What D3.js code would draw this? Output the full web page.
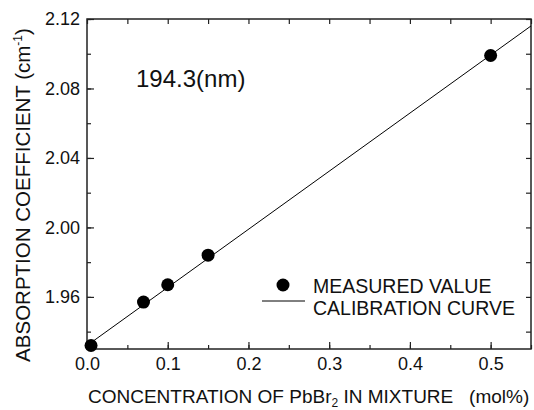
<!DOCTYPE html>
<html lang="en">
<head>
	<meta charset="utf-8"/>
	<title>Absorption coefficient calibration</title>
	<script src="https://d3js.org/d3.v7.min.js" charset="utf-8"></script>
	<style>
		body { margin: 0; background: #fff; }
		svg text { font-family: "Liberation Sans", Arial, sans-serif; fill: #111; }
		.frame { fill: none; stroke: #222; stroke-width: 1.5px; }
		.axis .domain { display: none; }
		.axis line { stroke: #222; stroke-width: 1.2px; }
	</style>
</head>
<body>
<div id="chart"></div>

<script>
	// measured points
	var conc = [0.005, 0.07, 0.10, 0.15, 0.50];
	var absCoef = [1.932, 1.957, 1.967, 1.984, 2.099];

	// calibration curve end points
	var fitX = [0.0, 0.55];
	var fitY = [1.932, 2.116];

	var xTicks = [0.0, 0.1, 0.2, 0.3, 0.4, 0.5];
	var yTicks = [1.96, 2.00, 2.04, 2.08, 2.12];

	var width = 534,
		height = 410;

	var m = {top: 19, right: 3, bottom: 61, left: 87};

	var svg = d3.select("#chart").append("svg")
		.attr("width", width)
		.attr("height", height);

	var x = d3.scaleLinear()
		.domain([0, 0.55])
		.range([m.left, width - m.right]);

	var y = d3.scaleLinear()
		.domain([1.93, 2.12])
		.range([height - m.bottom, m.top]);

	var xMinor = d3.range(0, 0.551, 0.05);
	var yMinor = d3.range(1.94, 2.121, 0.02);

	// minor ticks (all four sides)
	svg.append("g")
		.attr("class", "axis")
		.attr("transform", "translate(0," + y.range()[0] + ")")
		.call(d3.axisTop(x).tickValues(xMinor).tickSize(4).tickFormat(""));
	svg.append("g")
		.attr("class", "axis")
		.attr("transform", "translate(0," + y.range()[1] + ")")
		.call(d3.axisBottom(x).tickValues(xMinor).tickSize(5).tickFormat(""));
	svg.append("g")
		.attr("class", "axis")
		.attr("transform", "translate(" + x.range()[0] + ",0)")
		.call(d3.axisRight(y).tickValues(yMinor).tickSize(4).tickFormat(""));
	svg.append("g")
		.attr("class", "axis")
		.attr("transform", "translate(" + x.range()[1] + ",0)")
		.call(d3.axisLeft(y).tickValues(yMinor).tickSize(5).tickFormat(""));

	// major ticks with labels
	var xAxis = svg.append("g")
		.attr("class", "axis")
		.attr("transform", "translate(0," + y.range()[0] + ")")
		.call(d3.axisTop(x).tickValues(xTicks).tickSize(7).tickFormat(d3.format(".1f")));
	xAxis.selectAll("text")
		.attr("y", 8)
		.attr("dy", "0.71em")
		.attr("font-size", 18)
		.attr("font-family", null);

	var yAxis = svg.append("g")
		.attr("class", "axis")
		.attr("transform", "translate(" + x.range()[0] + ",0)")
		.call(d3.axisRight(y).tickValues(yTicks).tickSize(7).tickFormat(d3.format(".2f")));
	yAxis.selectAll("text")
		.attr("x", -7)
		.attr("text-anchor", "end")
		.attr("font-size", 18)
		.attr("font-family", null);

	// frame
	svg.append("rect")
		.attr("class", "frame")
		.attr("x", x.range()[0])
		.attr("y", y.range()[1])
		.attr("width", x.range()[1] - x.range()[0])
		.attr("height", y.range()[0] - y.range()[1]);

	// calibration line
	var line = d3.line()
		.x(function(d) { return x(d[0]); })
		.y(function(d) { return y(d[1]); });

	svg.append("path")
		.datum(d3.zip(fitX, fitY))
		.attr("d", line)
		.attr("fill", "none")
		.attr("stroke", "#000")
		.attr("stroke-width", 1);

	// measured points
	svg.append("g")
		.selectAll("circle")
		.data(d3.zip(conc, absCoef))
		.enter().append("circle")
		.attr("cx", function(d) { return x(d[0]); })
		.attr("cy", function(d) { return y(d[1]); })
		.attr("r", 6.5)
		.attr("fill", "#000");

	// wavelength note
	svg.append("text")
		.attr("x", 136)
		.attr("y", 87)
		.attr("font-size", 24)
		.text("194.3(nm)");

	// legend
	var legend = svg.append("g").attr("font-size", 19.5);
	legend.append("circle")
		.attr("cx", 283).attr("cy", 285).attr("r", 6.5).attr("fill", "#000");
	legend.append("text")
		.attr("x", 313).attr("y", 293).text("MEASURED VALUE");
	legend.append("line")
		.attr("x1", 262).attr("x2", 305).attr("y1", 301).attr("y2", 301)
		.attr("stroke", "#000").attr("stroke-width", 1);
	legend.append("text")
		.attr("x", 313).attr("y", 315).text("CALIBRATION CURVE");

	// axis titles
	var xt = svg.append("text")
		.attr("x", 88)
		.attr("y", 403)
		.attr("font-size", 19);
	xt.append("tspan").text("CONCENTRATION OF PbBr");
	xt.append("tspan").attr("font-size", 12).attr("dy", 4).text("2");
	xt.append("tspan").attr("dy", -4).text(" IN MIXTURE\u00a0\u00a0\u00a0(mol%)");

	var yt = svg.append("text")
		.attr("transform", "translate(30,195) rotate(-90)")
		.attr("text-anchor", "middle")
		.attr("font-size", 20.5);
	yt.append("tspan").text("ABSORPTION COEFFICIENT (cm");
	yt.append("tspan").attr("font-size", 12).attr("dy", -8).text("-1");
	yt.append("tspan").attr("dy", 8).text(")");
</script>
</body>
</html>
